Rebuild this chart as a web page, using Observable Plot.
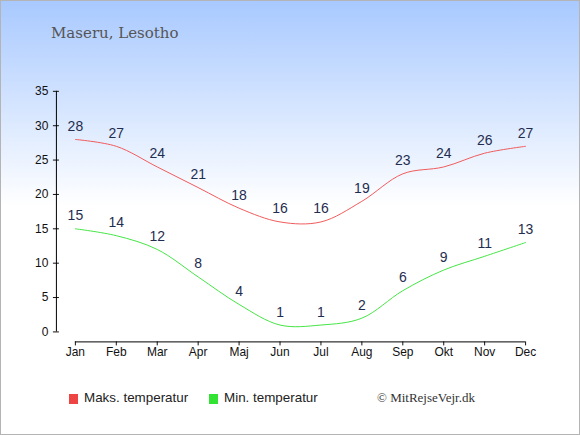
<!DOCTYPE html>
<html>
<head>
<meta charset="utf-8">
<script src="https://cdn.jsdelivr.net/npm/d3@7"></script>
<script src="https://cdn.jsdelivr.net/npm/@observablehq/plot@0.6"></script>
<style>
  html, body { margin: 0; padding: 0; background: #fff; }
  #wrap {
    position: relative; width: 580px; height: 435px; box-sizing: border-box;
    border: 1px solid #b4b4b4;
    background: linear-gradient(to bottom, #a8c9ff 0px, #ffffff 205px, #ffffff 435px);
    overflow: hidden;
  }
  #chart { position: absolute; left: -1px; top: -1px; }
  #title {
    position: absolute; left: 50px; top: 23px;
    font-family: "DejaVu Serif", serif; font-size: 15px; color: #555;
    white-space: nowrap;
  }
  .leg { position: absolute; top: 389px; font-family: "Liberation Sans", Arial, sans-serif;
    font-size: 13.4px; color: #222; white-space: nowrap; }
  .sw { position: absolute; width: 9px; height: 10px; top: 393px; }
  #copy { position: absolute; left: 376px; top: 389px; font-family: "Liberation Serif", serif;
    font-size: 13px; color: #333; white-space: nowrap; }
</style>
</head>
<body>
<div id="wrap">
  <div id="chart"></div>
  <div id="title">Maseru, Lesotho</div>
  <div class="sw" style="left:68px; background:#ee4444;"></div>
  <div class="leg" style="left:83px;">Maks. temperatur</div>
  <div class="sw" style="left:208px; background:#33e333;"></div>
  <div class="leg" style="left:223px;">Min. temperatur</div>
  <div id="copy">© MitRejseVejr.dk</div>
</div>
<script>
const months = ["Jan","Feb","Mar","Apr","Maj","Jun","Jul","Aug","Sep","Okt","Nov","Dec"];
const maxTemp = [28,27,24,21,18,16,16,19,23,24,26,27];
const minTemp = [15,14,12,8,4,1,1,2,6,9,11,13];
const yTicks = [0,5,10,15,20,25,30,35];

const maxData = months.map((m, i) => ({month: m, value: maxTemp[i]}));
const minData = months.map((m, i) => ({month: m, value: minTemp[i]}));
const xAxisSpan = [{from: months[0], to: months[months.length - 1]}];

const labelColor = "#1f2d4f";

const chart = Plot.plot({
  width: 580,
  height: 372,
  marginLeft: 56,
  marginTop: 90,
  marginBottom: 30,
  marginRight: 40,
  style: {background: "transparent", fontFamily: "Liberation Sans, Arial, sans-serif", overflow: "visible"},
  x: {type: "point", domain: months, range: [75, 526], padding: 0, label: null},
  y: {domain: [0, 35], range: [332, 91], label: null},
  marks: [
    Plot.axisY({ticks: yTicks, tickSize: 6, dx: 3, tickPadding: 5, fontSize: 12, color: "#111", label: null}),
    Plot.axisX({tickSize: 4, tickPadding: 2, fontSize: 12, color: "#111", label: null}),
    Plot.ruleX([months[0]], {y1: 0, y2: 35, dx: -19, stroke: "#000", strokeWidth: 1}),
    Plot.ruleY(xAxisSpan, {x1: "from", x2: "to", y: 0, dy: 10, stroke: "#000", strokeWidth: 1}),
    Plot.line(maxData, {x: "month", y: "value", stroke: "#f05a5a", strokeWidth: 1, curve: "catmull-rom"}),
    Plot.line(minData, {x: "month", y: "value", stroke: "#44e544", strokeWidth: 1, curve: "catmull-rom"}),
    Plot.text(maxData, {x: "month", y: "value", text: d => String(d.value), dy: -13, lineAnchor: "middle", fontSize: 14, fill: labelColor}),
    Plot.text(minData, {x: "month", y: "value", text: d => String(d.value), dy: -13, lineAnchor: "middle", fontSize: 14, fill: labelColor})
  ]
});
document.getElementById("chart").appendChild(chart);
</script>
</body>
</html>
